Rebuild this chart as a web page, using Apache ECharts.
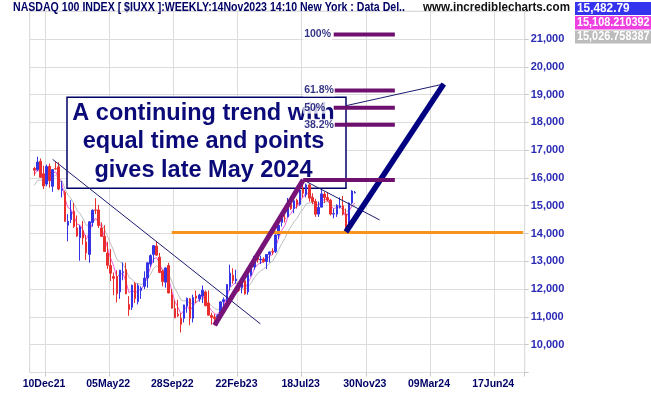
<!DOCTYPE html>
<html><head><meta charset="utf-8">
<script src="https://cdn.jsdelivr.net/npm/echarts@6/dist/echarts.min.js"></script>
<style>html,body{margin:0;padding:0;background:#fff}#c{width:651px;height:395px}</style>
</head><body><div id="c"></div>
<script>
// ---- x axis: weekly bands (band 0 = week of 1 Nov 2021, empty) ----
const bandCount = 162;
const firstDataBand = 1;
const tickLabels = ['10Dec21','05May22','28Sep22','22Feb23','18Jul23','30Nov23','09Mar24','17Jun24'];
const tickFirstBand = 5, tickStep = 21;

// ---- weekly OHLC, NASDAQ 100 (week of 8 Nov 2021 .. week of 13 Nov 2023) ----
const open = [16345,16300,16600,16150,15780,16420,15700,16330,16400,15560,
15480,14300,14500,14800,14200,13850,14100,13700,13250,14400,
14850,14850,14200,13900,13300,12850,12450,12450,11900,12600,
12700,11450,11350,12200,11550,11950,12100,12400,12900,13250,
13550,13150,12650,12250,12850,11800,11300,11100,10950,10950,
11400,11650,10950,11750,11650,11750,11900,11500,11050,11000,
11000,11100,11550,11620,12100,12500,12300,12200,12050,12300,
11900,12500,12800,13180,13050,13080,12990,13250,13350,13350,
13950,14400,14550,14600,15050,14900,15200,15050,15600,15400,
15750,15300,15150,14700,14950,15420,15300,15200,14700,14700,
14950,15000,14700,14200,15100,15470];
const high = [16400,16764,16700,16440,16480,16520,16320,16570,16560,15890,
15550,14700,15200,15100,14650,14300,14450,13950,14450,14870,
15270,15030,14400,14300,13700,13440,12600,12680,12690,12960,
12950,11750,12160,12260,12200,12100,12640,12960,13250,13580,
13720,13300,12700,12780,12950,12000,11600,11620,11130,11440,
11700,11680,11800,11950,11830,12130,11950,11950,11150,11100,
11100,11560,11700,12180,12880,12750,12700,12250,12300,12450,
12550,12900,13190,13220,13200,13150,13260,13350,13470,13980,
14320,14600,14680,15280,15100,15200,15250,15600,15932,15800,
15800,15450,15250,15150,15600,15500,15480,15250,14900,15050,
15300,15350,14900,15120,15560,15530];
const low = [16080,16240,16000,15600,15700,15650,15500,16300,15560,15300,
14420,13720,14380,14200,13880,13020,13600,13050,12950,14250,
14700,14200,13880,13340,12730,12290,11780,11520,11650,12320,
11820,11040,11250,11500,11450,11650,12000,12050,12800,12950,
13200,12580,12100,12050,11850,11300,10950,11000,10440,10800,
11150,10700,10800,11500,11550,11500,11380,11050,10720,10700,
10700,11050,11250,11500,11950,12200,12200,11900,11850,11800,
11800,12450,12700,12950,12900,12950,12720,12960,13230,13300,
13800,14250,14400,14580,14850,14730,14900,15000,15300,15300,
15150,15050,14600,14600,14940,15100,15150,14650,14550,14600,
14900,14650,14060,14150,15050,15440];
const close = [16280,16573,16025,15712,16410,15900,16300,16320,15600,15611,
14438,14440,14780,14253,13910,14238,13838,13301,14420,14837,
14838,14289,13897,13355,12855,12573,12387,11835,12681,12621,
11831,11265,12140,11660,12126,12040,12396,12947,13207,13565,
13223,12597,12271,12762,11862,11312,10971,11040,10735,11431,
11666,10950,11699,11677,11785,11961,11405,11063,10985,10940,
11040,11541,11619,12167,12573,12305,12359,11959,12266,11830,
12520,12767,13181,13062,13079,12996,13245,13339,13340,13946,
14298,14547,14540,15083,14891,15179,15034,15565,15451,15750,
15274,15138,14695,14942,15427,15290,15202,14701,14715,15020,
14995,14694,14180,15099,15529,15483];

// ---- moving averages as drawn (pink = fast, grey = slow) ----
const maFast = [16112,16296,16188,15998,16163,16058,16155,16221,15973,15828,
15272,14939,14875,14626,14340,14299,14115,13789,14041,14359,
14551,14446,14226,13878,13469,13111,12821,12427,12529,12566,
12272,11869,11977,11850,11960,11992,12154,12471,12765,13085,
13140,12923,12662,12702,12366,11944,11555,11349,11103,11234,
11407,11224,11414,11519,11625,11759,11617,11395,11231,11115,
11085,11267,11408,11712,12056,12156,12237,12126,12182,12041,
12233,12447,12741,12869,12953,12970,13080,13184,13246,13526,
13835,14120,14288,14606,14720,14904,14956,15200,15300,15480,
15398,15294,15054,15009,15176,15222,15214,15009,14891,14943,
14964,14856,14586,14791,15000,15108];
const maSlow = [15736,15903,15927,15884,15989,15971,16037,16094,15995,15918,
15622,15386,15265,15063,14832,14713,14538,14291,14317,14421,
14504,14461,14348,14149,13890,13627,13379,13070,12992,12918,
12701,12414,12359,12219,12200,12168,12214,12361,12530,12737,
12834,12787,12684,12700,12532,12288,12025,11828,11609,11573,
11592,11464,11511,11544,11592,11666,11614,11504,11400,11308,
11254,11311,11373,11532,11740,11853,11954,11955,12017,11980,
12088,12224,12415,12544,12651,12720,12825,12928,13010,13197,
13417,13643,13822,14074,14237,14425,14547,14751,14891,15063,
15105,15112,15029,15012,15095,15134,15148,15059,14990,14996,
14996,14936,14785,14848,14984,15026];

// ---- drawn annotations: [band, value] ----
const trendThinA = [[7, 16670], [75, 10750]];
const trendThinB = [[89, 15930], [114, 14490]];
const trendThinC = [[103, 18600], [135, 19380]];
const legPurple = [[60, 10700], [89, 15932]];
const legNavy = [[103, 14060], [135, 19380]];
const supportLine = [[46, 14040], [161, 14040]];
const fibLevels = [15930, 17910, 18530, 19150, 21160];
const fibNames = ['', '38.2%', '50%', '61.8%', '100%'];
const fibStartBand = [89, 99, 99, 99, 99];
const fibEndBand = 119;
const fibLabelBand = 89;

// ---- texts ----
const titleText = 'NASDAQ 100 INDEX [ $IUXX ]:WEEKLY:14Nov2023 14:10 New York : Data Del..';
const siteText = 'www.incrediblecharts.com';
const lastValues = ['15,482.79', '15,108.210392', '15,026.758387'];
const noteText = 'A continuing trend with\nequal time and points\ngives late May 2024';

// build categories (week starts)
const categories = [];
const d0 = new Date(Date.UTC(2021, 10, 1));
for (let i = 0; i < bandCount; i++) {
  const d = new Date(d0.getTime() + i * 7 * 86400000);
  categories.push(d.toISOString().slice(0, 10));
}
const isTick = (i) => i >= tickFirstBand && (i - tickFirstBand) % tickStep === 0 && (i - tickFirstBand) / tickStep < tickLabels.length;

const candleData = [];
const fastData = [], slowData = [];
for (let d = 0; d < close.length; d++) {
  const b = d + firstDataBand;
  candleData.push([b, open[d], close[d], low[d], high[d]]);
  fastData.push([b, maFast[d]]);
  slowData.push([b, maSlow[d]]);
}

const measureCtx = document.createElement('canvas').getContext('2d');
function fit(text, font, target) {
  measureCtx.font = font;
  return target / measureCtx.measureText(text).width;
}

const NAVY = '#000066';
const lineSeries = (data, color, width, z) => ({
  type: 'line', data, symbol: 'none', silent: true, z: z || 4,
  lineStyle: { color, width, cap: 'butt' }
});

const series = [
  lineSeries(slowData, '#bdbdbd', 1, 2),
  lineSeries(fastData, '#f060d8', 1, 2),
  {
    type: 'candlestick', data: candleData, barWidth: 2, z: 3,
    encode: { x: 0, y: [1, 2, 3, 4] },
    itemStyle: { color: '#3434e6', color0: '#ea2e2e', borderColor: '#3434e6', borderColor0: '#ea2e2e', borderWidth: 1 }
  },
  lineSeries(trendThinA, '#1a1a70', 1, 4),
  lineSeries(trendThinB, '#1a1a70', 1, 4),
  lineSeries(trendThinC, '#1a1a70', 1, 4),
  lineSeries(supportLine, '#f7941d', 3, 5),
  lineSeries(legPurple, '#781478', 5, 5),
  lineSeries(legNavy, '#000080', 5.5, 5)
];
fibLevels.forEach((v, k) => {
  series.push(lineSeries([[fibStartBand[k], v], [fibEndBand, v]], '#6e106e', 4, 5));
});
series.push({
  type: 'scatter', symbolSize: 0, silent: true, z: 6,
  data: fibLevels.map((v, k) => ({ value: [fibLabelBand, v], name: fibNames[k] })).filter(o => o.name),
  label: {
    show: true, position: 'right', distance: 0, formatter: (p) => p.name,
    color: NAVY, fontFamily: '"Liberation Sans", Arial, sans-serif', fontWeight: 'bold', fontSize: 10.5,
    backgroundColor: '#ffffff', padding: [1, 1, 0, 1]
  }
});

const titleFont = 'bold 12px "Liberation Sans", Arial, sans-serif';
const siteFont = 'bold 12.5px "Liberation Sans", Arial, sans-serif';
const valFont = 'bold 12px "Liberation Sans", Arial, sans-serif';
const valTargets = [52.6, 72.6, 72.6];

const graphics = [
  { type: 'text', x: 13, y: 8, z: 10, scaleX: fit(titleText, titleFont, 392), style: { text: titleText, fill: NAVY, font: titleFont, verticalAlign: 'middle' } },
  { type: 'text', x: 423, y: 8, z: 10, scaleX: fit(siteText, siteFont, 147), style: { text: siteText, fill: '#111111', font: siteFont, verticalAlign: 'middle' } },
  { type: 'rect', z: 10, shape: { x: 575, y: 2, width: 76, height: 13 }, style: { fill: '#3434ee' } },
  { type: 'rect', z: 10, shape: { x: 575, y: 16, width: 76, height: 13.5 }, style: { fill: '#ee40e0' } },
  { type: 'rect', z: 10, shape: { x: 575, y: 30.5, width: 76, height: 13 }, style: { fill: '#bcbcbc' } },
  { type: 'rect', z: 1, shape: { x: 67, y: 97.3, width: 279, height: 91 }, style: { fill: '#ffffff', stroke: NAVY, lineWidth: 1.5 } },
  { type: 'text', x: 203.5, y: 141.9, z: 1, style: { text: noteText, fill: '#0a0a78', font: 'bold 23.5px "Liberation Sans", Arial, sans-serif', align: 'center', verticalAlign: 'middle', lineHeight: 28.3 } }
];
const valY = [8.5, 22.8, 37];
lastValues.forEach((t, k) => {
  graphics.push({ type: 'text', x: 577, y: valY[k], z: 11, scaleX: Math.min(1, fit(t, valFont, valTargets[k])), style: { text: t, fill: '#ffffff', font: valFont, verticalAlign: 'middle' } });
});

const chart = echarts.init(document.getElementById('c'), null, { renderer: 'canvas' });
chart.setOption({
  animation: false,
  backgroundColor: '#ffffff',
  grid: { left: 29.7, top: 11.2, width: 495, height: 361.3, show: true, borderColor: '#d4d4d4', borderWidth: 1, containLabel: false },
  xAxis: {
    type: 'category', data: categories, boundaryGap: true,
    axisLine: { show: false },
    axisTick: { show: true, interval: isTick, length: 4, lineStyle: { color: '#c8c8c8' } },
    axisLabel: {
      interval: isTick, margin: 6, padding: [0, 5, 0, 0],
      formatter: (v, i) => tickLabels[(i - tickFirstBand) / tickStep] || '',
      color: NAVY, fontFamily: '"Liberation Sans", Arial, sans-serif', fontWeight: 'bold', fontSize: 10.5
    },
    splitLine: { show: true, interval: isTick, lineStyle: { color: '#dcdcdc', width: 1 } }
  },
  yAxis: {
    type: 'value', position: 'right', min: 9000, max: 22000, interval: 1000, scale: true,
    axisLine: { show: false },
    axisTick: { show: true, length: 4, lineStyle: { color: '#c8c8c8' } },
    axisLabel: {
      margin: 6, align: 'left',
      formatter: (v) => (v >= 10000 && v <= 21000) ? v.toLocaleString('en-US') : '',
      color: '#2a2ab4', fontFamily: '"Liberation Sans", Arial, sans-serif', fontWeight: 'bold', fontSize: 11
    },
    splitLine: { show: true, lineStyle: { color: '#dcdcdc', width: 1 } }
  },
  series,
  graphic: { elements: graphics }
});
</script></body></html>
